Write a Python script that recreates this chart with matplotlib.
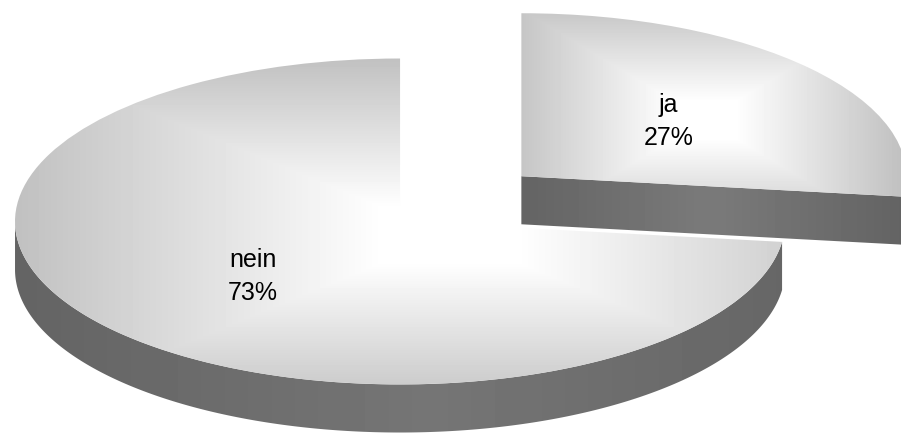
import numpy as np
import matplotlib.pyplot as plt
from matplotlib.patches import Polygon

labels = ['ja', 'nein']
shares = [27, 73]
explode = [0.42, 0]

W, H = 901, 433
depth = 0.295  # thickness of the disc, in y data units

fig = plt.figure(figsize=(W / 100, H / 100), dpi=100)
ax = fig.add_axes([0, 0, 1, 1])
wedges, texts = ax.pie(shares, explode=explode,
                       labels=[f'{l}\n{v}%' for l, v in zip(labels, shares)],
                       labeldistance=0.51, startangle=90, counterclock=False,
                       wedgeprops=dict(facecolor='none', linewidth=0),
                       textprops=dict(fontsize=18, family='Liberation Sans', linespacing=1.45))
for t in texts:
    t.set_ha('center')

x0, x1, y0, y1 = -1.039, 1.301, -1.298, 1.359

# pixel grid for the gradient fills
px, py = np.meshgrid(np.arange(W) + 0.5, np.arange(H) + 0.5)


def box_grad(cx, cy, hw, hh, lo, hi):
    t = 1 - np.maximum(abs(px - cx) / hw, abs(py - cy) / hh)
    t = np.clip(t / 0.85, 0, 1)
    return lo + (hi - lo) * t


def side_grad(cx, hw, lo, hi):
    t = np.clip(1 - abs(px - cx) / hw, 0, 1)
    return lo + (hi - lo) * t


def paint(img, patch, z):
    im = ax.imshow(img, extent=(x0, x1, y0, y1), cmap='gray', vmin=0, vmax=1,
                   aspect='auto', interpolation='bilinear', zorder=z)
    im.set_clip_path(patch)


def wall_polys(w):
    cx, cy = w.center
    r = w.r
    polys = []
    t = np.radians(np.linspace(w.theta1, w.theta2, 600))
    front = t[np.sin(t) <= 0]
    if len(front) > 1:
        top = np.c_[cx + r * np.cos(front), cy + r * np.sin(front)]
        bot = top - [0, depth]
        polys.append(np.vstack([top, bot[::-1]]))
    for ang, sgn in ((w.theta1, 1), (w.theta2, -1)):
        a = np.radians(ang)
        if sgn * np.cos(a) > 1e-6:
            e = [cx + r * np.cos(a), cy + r * np.sin(a)]
            polys.append(np.array([[cx, cy], e, [e[0], e[1] - depth], [cx, cy - depth]]))
    out = []
    for p in polys:
        patch = Polygon(p, closed=True, facecolor='none', edgecolor='none')
        ax.add_patch(patch)
        out.append(patch)
    return out


# (top gradient, side gradient) per slice, in pixels
shading = [
    (box_grad(705, 120, 200, 120, 0.75, 1.0), side_grad(710, 190, 0.39, 0.48)),
    (box_grad(450, 235, 440, 180, 0.75, 1.0), side_grad(430, 420, 0.39, 0.46)),
]

for i, (w, (top_img, side_img)) in enumerate(zip(wedges, shading)):
    for p in wall_polys(w):
        paint(side_img, p, 0.1 + 0.2 * i)
    paint(top_img, w, 0.2 + 0.2 * i)

ax.set_aspect('auto')
ax.set_xlim(x0, x1)
ax.set_ylim(y0, y1)
ax.axis('off')
fig.savefig('out.png', dpi=100)
